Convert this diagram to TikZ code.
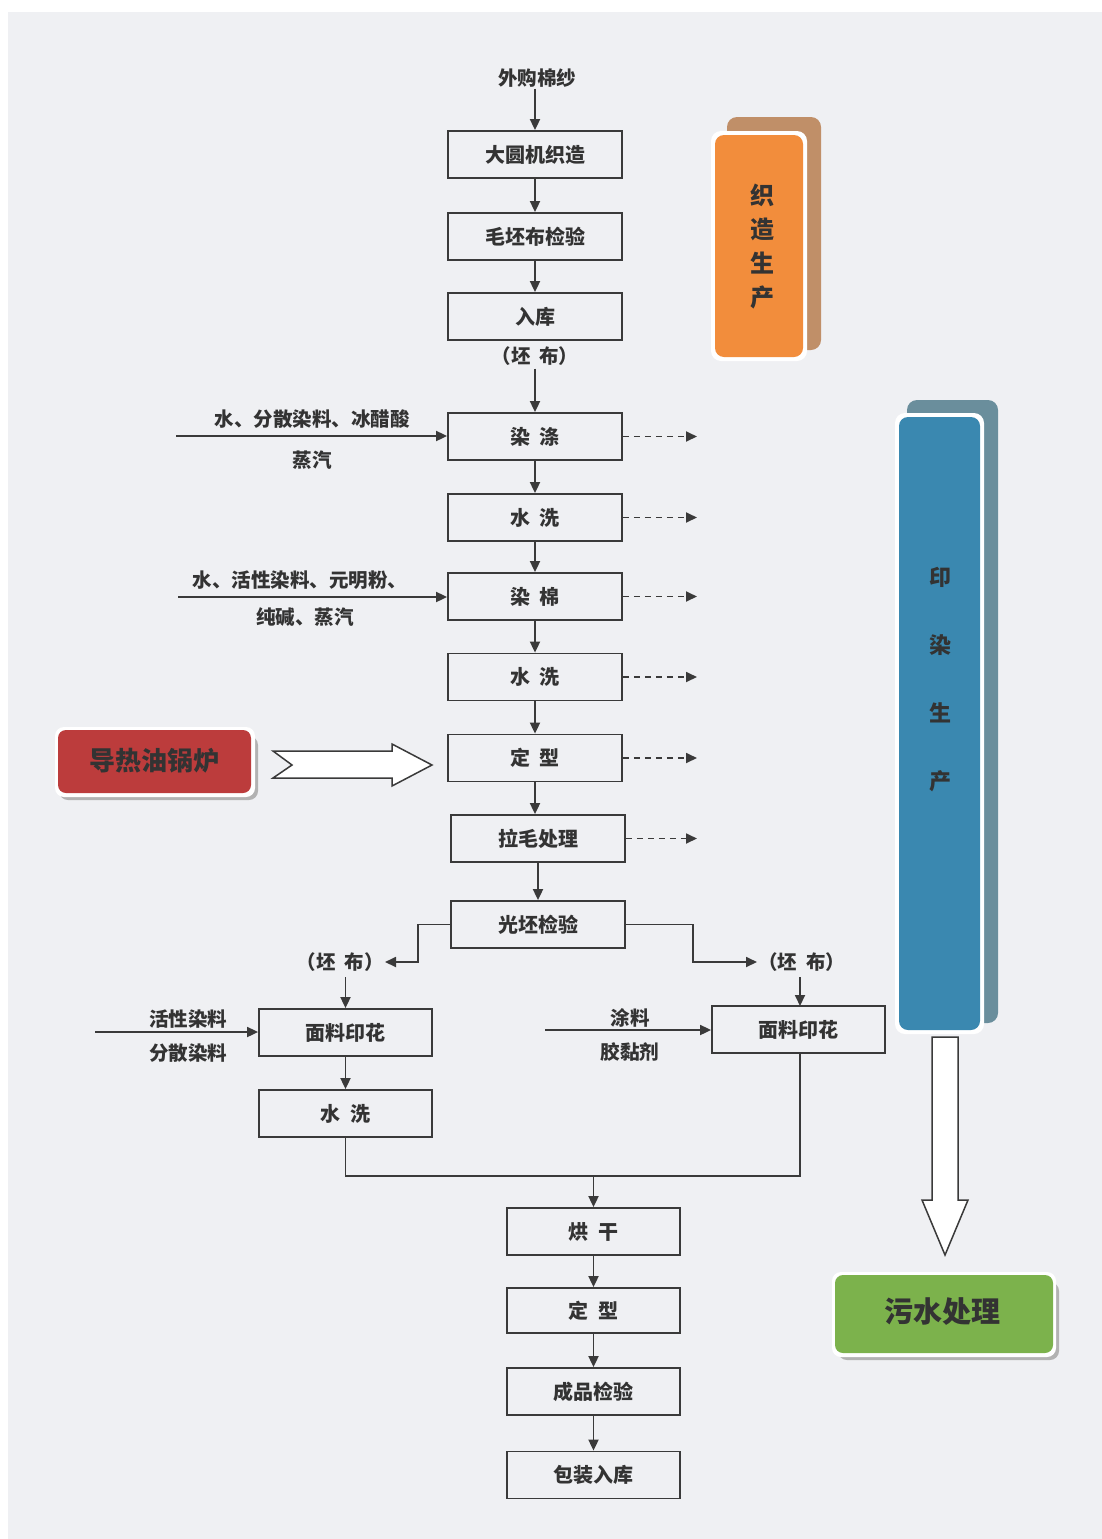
\documentclass[tikz,border=0pt]{standalone}
\usepackage{fontspec}
\setmainfont{Noto Sans CJK SC}
\usetikzlibrary{arrows.meta}
\definecolor{bg}{HTML}{EFF0F3}
\definecolor{ln}{HTML}{3A3A3A}
\definecolor{tx}{HTML}{333333}
\definecolor{orangeF}{HTML}{F28D3C}
\definecolor{orangeB}{HTML}{C08F68}
\definecolor{blueF}{HTML}{3A88B0}
\definecolor{blueB}{HTML}{6A8E9C}
\definecolor{redF}{HTML}{BC3C3C}
\definecolor{greenF}{HTML}{7CB24C}
\tikzset{
  pbox/.style={draw=ln, line width=1.8pt, minimum width=174pt, minimum height=47pt, inner sep=0pt, text=tx, font=\fontsize{20}{24}\selectfont\bfseries},
  lbl/.style={text=tx, inner sep=1pt, font=\fontsize{19.5}{23}\selectfont\bfseries},
  arr/.style={draw=ln, line width=1.8pt, -{Triangle[length=11pt,width=10pt]}},
  dsh/.style={draw=ln, line width=1.8pt, dash pattern=on 6pt off 5pt, -{Triangle[length=11pt,width=10pt]}},
  ln/.style={draw=ln, line width=1.8pt},
}
\begin{document}
\begin{tikzpicture}[x=1pt,y=-1pt]
\useasboundingbox (0,0) rectangle (1102,1539);
\fill[white] (0,0) rectangle (1102,1539);
\fill[bg] (8,12) rectangle (1102,1539);

% colored side panels
\fill[orangeB, rounded corners=10pt] (727,117) rectangle (821,350);
\fill[white, rounded corners=10pt] (711,131) rectangle (807,361);
\fill[orangeF, rounded corners=9pt] (715,135) rectangle (803,357);
\node[font=\fontsize{24}{34}\selectfont\bfseries, text=tx, align=center] (zz) at (762,247) {织\\造\\生\\产};

\fill[blueB, rounded corners=10pt] (907,400) rectangle (998,1023);
\fill[white, rounded corners=10pt] (895,413) rectangle (984,1034);
\fill[blueF, rounded corners=9pt] (899,417) rectangle (980,1030);
\node[font=\fontsize{22}{68}\selectfont\bfseries, text=tx, align=center] (yr) at (940,680) {印\\染\\生\\产};

\fill[black!30, rounded corners=9pt] (59,736) rectangle (258,800);
\fill[white, rounded corners=9pt] (55,727) rectangle (255,797);
\fill[redF, rounded corners=8pt] (58,730) rectangle (251,793);
\node[font=\fontsize{26}{30}\selectfont\bfseries, text=tx] (boiler) at (154,761) {导热油锅炉};

\fill[black!30, rounded corners=9pt] (838,1282) rectangle (1059,1360);
\fill[white, rounded corners=9pt] (832,1272) rectangle (1056,1357);
\fill[greenF, rounded corners=8pt] (835,1275) rectangle (1053,1353);
\node[font=\fontsize{29}{32}\selectfont\bfseries, text=tx] (ws) at (942,1312) {污水处理};

% hollow arrows
\draw[ln, fill=white, line width=1.5pt] (273,751) -- (392,751) -- (392,744) -- (432,765) -- (392,786) -- (392,778) -- (273,778) -- (292,765) -- cycle;
\draw[ln, fill=white, line width=1.5pt] (932,1037) -- (958,1037) -- (958,1200) -- (968,1200) -- (945,1255) -- (922,1200) -- (932,1200) -- cycle;

% main column
\node[lbl] (src) at (537,78) {外购棉纱};
\node[pbox] (b1) at (535,154.5) {大圆机织造};
\node[pbox] (b2) at (535,236.5) {毛坯布检验};
\node[pbox] (b3) at (535,316.5) {入库};
\node[lbl] (pb) at (535,356) {（坯\ \ 布）};
\node[pbox] (b4) at (535,436.5) {染\ \ 涤};
\node[pbox] (b5) at (535,517.5) {水\ \ 洗};
\node[pbox] (b6) at (535,596.5) {染\ \ 棉};
\node[pbox] (b7) at (535,677) {水\ \ 洗};
\node[pbox] (b8) at (535,758) {定\ \ 型};
\node[pbox] (b9) at (538,838.5) {拉毛处理};
\node[pbox] (b10) at (538,924.5) {光坯检验};

\draw[arr] (b1.north |- src.south) -- (b1.north);
\draw[arr] (b1) -- (b2);
\draw[arr] (b2) -- (b3);
\draw[arr] (pb.south) ++(0,2) -- (b4.north);
\draw[arr] (b4) -- (b5);
\draw[arr] (b5) -- (b6);
\draw[arr] (b6) -- (b7);
\draw[arr] (b7) -- (b8);
\draw[arr] (b8.south) -- (b8.south |- b9.north);
\draw[arr] (b9) -- (b10);

% dashed outputs
\coordinate (dx) at (697,0);
\foreach \n in {4,...,9}{
  \draw[dsh] (b\n.east) -- (b\n.east -| dx);
}

% inputs
\coordinate (i1) at (176,436);
\draw[arr] (i1) -- (i1 -| b4.west);
\node[lbl] (t1a) at (312,419) {水、分散染料、冰醋酸};
\node[lbl] (t1b) at (312,460) {蒸汽};
\coordinate (i2) at (178,597);
\draw[arr] (i2) -- (i2 -| b6.west);
\node[lbl] (t2a) at (300,580) {水、活性染料、元明粉、};
\node[lbl] (t2b) at (305,617) {纯碱、蒸汽};

% branches
\node[lbl, anchor=east] (L1) at (385,962) {（坯\ \ 布）};
\node[lbl, anchor=west] (R1) at (757,962) {（坯\ \ 布）};
\draw[arr] (b10.west) -- (418,924.5) |- (L1.east);
\draw[arr] (b10.east) -- (693,924.5) |- (R1.west);

\node[pbox, minimum width=173pt] (lp) at (345.5,1032.5) {面料印花};
\node[pbox, minimum width=173pt] (lw) at (345.5,1113.5) {水\ \ 洗};
\node[pbox, minimum width=173pt] (rp) at (798.5,1029.5) {面料印花};

\draw[arr] (345.5,977) -- (lp.north);
\draw[arr] (800,977) -- (800,1006);
\draw[arr] (lp) -- (lw);

\coordinate (i3) at (95,1032);
\draw[arr] (i3) -- (i3 -| lp.west);
\node[lbl] (t3a) at (188,1019) {活性染料};
\node[lbl] (t3b) at (188,1053) {分散染料};
\coordinate (i4) at (545,1030);
\draw[arr] (i4) -- (i4 -| rp.west);
\node[lbl] (t4a) at (630,1018) {涂料};
\node[lbl] (t4b) at (630,1052) {胶黏剂};

% merge
\coordinate (m) at (593.5,1176);
\draw[ln] (lw.south) |- (m) -| (800,1053);

\node[pbox, minimum width=173pt] (c1) at (593.5,1231.5) {烘\ \ 干};
\node[pbox, minimum width=173pt, minimum height=45pt] (c2) at (593.5,1310.5) {定\ \ 型};
\node[pbox, minimum width=173pt] (c3) at (593.5,1391.5) {成品检验};
\node[pbox, minimum width=173pt] (c4) at (593.5,1475) {包装入库};

\draw[arr] (m) -- (c1.north);
\draw[arr] (c1) -- (c2);
\draw[arr] (c2) -- (c3);
\draw[arr] (c3) -- (c4);
\end{tikzpicture}
\end{document}
